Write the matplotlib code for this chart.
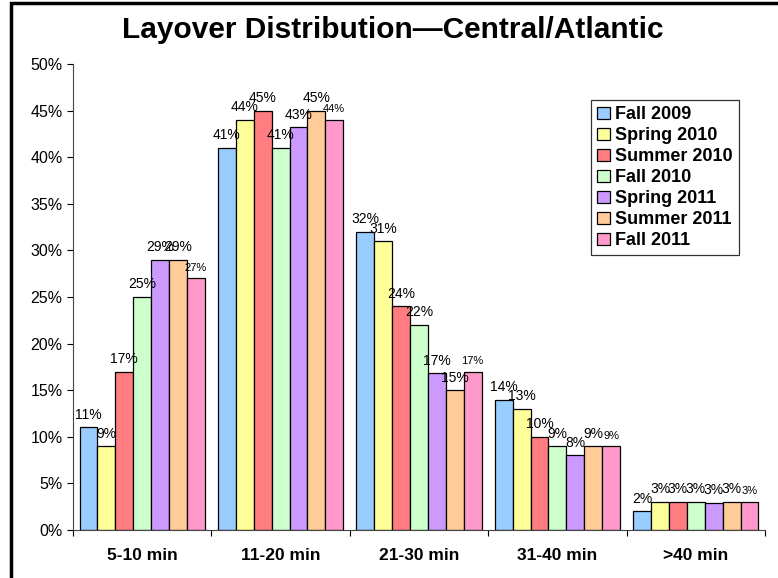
import numpy as np
import matplotlib.pyplot as plt
from matplotlib.patches import Rectangle
from matplotlib.ticker import PercentFormatter

plt.rcParams['font.family'] = ['Liberation Sans', 'DejaVu Sans']

categories = ['5-10 min', '11-20 min', '21-30 min', '31-40 min', '>40 min']
seasons = ['Fall 2009', 'Spring 2010', 'Summer 2010', 'Fall 2010',
           'Spring 2011', 'Summer 2011', 'Fall 2011']
colors = ['#99CCFF', '#FFFF99', '#FF7C80', '#CCFFCC',
          '#CC99FF', '#FFCC99', '#FF99CC']

fall_2009 = [11, 41, 32, 14, 2]
spring_2010 = [9, 44, 31, 13, 3]
summer_2010 = [17, 45, 24, 10, 3]
fall_2010 = [25, 41, 22, 9, 3]
spring_2011 = [29, 43.2, 16.8, 8, 2.9]
summer_2011 = [29, 45, 15, 9, 3]
fall_2011 = [27, 44, 17, 9, 3]
series = [fall_2009, spring_2010, summer_2010, fall_2010,
          spring_2011, summer_2011, fall_2011]

fig = plt.figure(figsize=(7.78, 5.78), dpi=100)
ax = fig.add_axes([73 / 778, 1 - 530 / 578, (765 - 73) / 778, (530 - 64) / 578])

# border around the chart area
fig.patches.append(Rectangle((11 / 778, -0.1), 1.2, 1 - 3 / 578 + 0.1,
                             transform=fig.transFigure, fill=False,
                             edgecolor='black', linewidth=2.5))

x = np.arange(len(categories))
w = 0.905 / len(seasons)
for i, (vals, name, c) in enumerate(zip(series, seasons, colors)):
    pos = x - 0.4525 + w * (i + 0.5)
    ax.bar(pos, vals, width=w, color=c, edgecolor='black', linewidth=0.9,
           label=name)
    fs = 8 if i == 6 else 10
    for px, v in zip(pos, vals):
        ax.annotate(f'{round(v):d}%', (px, v), xytext=(0, 4),
                    textcoords='offset points', ha='center', va='bottom',
                    fontsize=fs)

ax.set_xlim(-0.5, len(categories) - 0.5)
ax.set_ylim(0, 50)
ax.set_yticks(np.arange(0, 51, 5))
ax.yaxis.set_major_formatter(PercentFormatter(decimals=0))
ax.set_xticks(np.arange(-0.5, len(categories), 1))
ax.set_xticklabels([])
ax.set_xticks(x, minor=True)
ax.set_xticklabels(categories, minor=True, fontsize=12.5, fontweight='bold')
ax.tick_params(axis='x', which='minor', length=0, pad=13)
ax.tick_params(axis='x', which='major', length=4, direction='out')
ax.tick_params(axis='y', length=4, labelsize=11.5)
for s in ['top', 'right']:
    ax.spines[s].set_visible(False)
ax.spines['left'].set_color('#444444')
ax.spines['bottom'].set_color('#444444')

fig.text(393 / 778, 1 - 30 / 578, 'Layover Distribution\u2014Central/Atlantic',
         ha='center', va='center', fontsize=21.5, fontweight='bold')

leg = ax.legend(loc='upper left', bbox_to_anchor=((591 - 73) / 692, (530 - 100) / 466),
                prop={'weight': 'bold', 'size': 13}, frameon=True, fancybox=False,
                handlelength=0.7, handleheight=0.7, handletextpad=0.3,
                labelspacing=0.22, borderpad=0.35, borderaxespad=0)
leg.get_frame().set_edgecolor('black')
leg.get_frame().set_linewidth(0.9)

fig.savefig('out.png', dpi=100)
